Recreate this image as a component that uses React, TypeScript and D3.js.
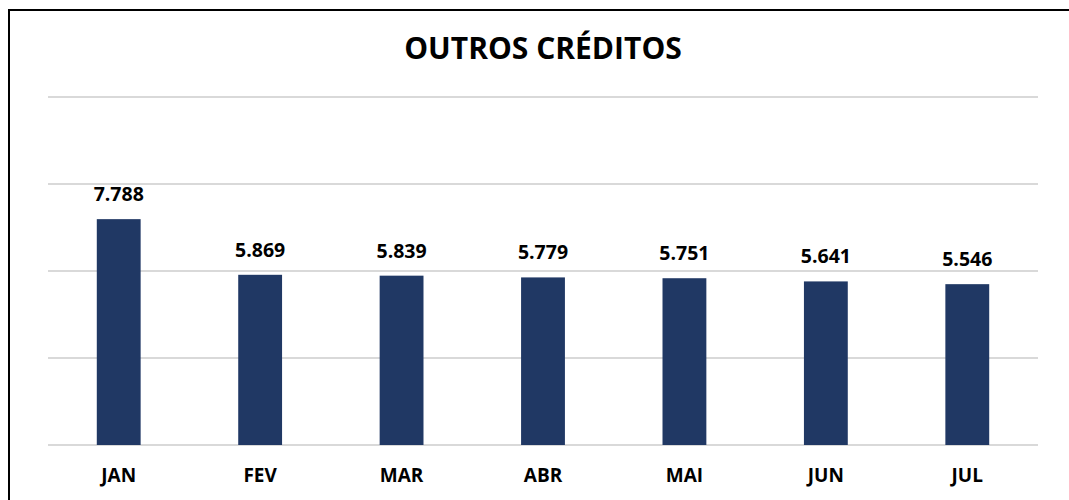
import React, { useEffect, useRef } from 'react';
import * as d3 from 'd3';

const months = ['JAN', 'FEV', 'MAR', 'ABR', 'MAI', 'JUN', 'JUL'];
const values = [7.788, 5.869, 5.839, 5.779, 5.751, 5.641, 5.546];
const yTicks = [0, 3, 6, 9, 12];
const title = 'OUTROS CRÉDITOS';

export default function App() {
  const svgRef = useRef<SVGSVGElement>(null);

  useEffect(() => {
    const width = 1069;
    const height = 500;
    const plot = { left: 48, right: 1038, top: 97, bottom: 445 };
    const font = "'Open Sans', 'Liberation Sans', sans-serif";

    const svg = d3.select(svgRef.current);
    svg.selectAll('*').remove();
    svg.attr('width', width).attr('height', height);

    svg.append('rect')
      .attr('width', width)
      .attr('height', height)
      .attr('fill', '#ffffff');

    // outer frame (only left and top are inside the picture)
    svg.append('path')
      .attr('d', `M9,${height + 5} L9,10 L${width + 5},10`)
      .attr('fill', 'none')
      .attr('stroke', '#000000')
      .attr('stroke-width', 2);

    const x = d3.scaleBand()
      .domain(months)
      .range([plot.left, plot.right])
      .paddingInner(0.69)
      .paddingOuter(0.345);

    const y = d3.scaleLinear()
      .domain([0, 12])
      .range([plot.bottom, plot.top]);

    // grid lines
    svg.append('g')
      .selectAll('line')
      .data(yTicks)
      .enter()
      .append('line')
      .attr('x1', plot.left)
      .attr('x2', plot.right)
      .attr('y1', d => y(d))
      .attr('y2', d => y(d))
      .attr('stroke', '#d9d9d9')
      .attr('stroke-width', 2);

    // bars
    svg.append('g')
      .selectAll('rect')
      .data(values)
      .enter()
      .append('rect')
      .attr('x', (d, i) => x(months[i]))
      .attr('width', x.bandwidth())
      .attr('y', d => y(d))
      .attr('height', d => y(0) - y(d))
      .attr('fill', '#203864');

    // value labels
    svg.append('g')
      .selectAll('text')
      .data(values)
      .enter()
      .append('text')
      .attr('x', (d, i) => x(months[i]) + x.bandwidth() / 2)
      .attr('y', d => y(d) - 18)
      .attr('text-anchor', 'middle')
      .attr('fill', '#000000')
      .style('font-family', font)
      .style('font-weight', 'bold')
      .style('font-size', '19.5px')
      .text(d => d.toFixed(3));

    // category labels
    svg.append('g')
      .selectAll('text')
      .data(months)
      .enter()
      .append('text')
      .attr('x', d => x(d) + x.bandwidth() / 2)
      .attr('y', 482)
      .attr('text-anchor', 'middle')
      .attr('fill', '#000000')
      .style('font-family', font)
      .style('font-weight', 'bold')
      .style('font-size', '19px')
      .text(d => d);

    // title
    svg.append('text')
      .attr('x', 543)
      .attr('y', 59)
      .attr('text-anchor', 'middle')
      .attr('fill', '#000000')
      .style('font-family', font)
      .style('font-weight', 'bold')
      .style('font-size', '30px')
      .text(title);
  }, []);

  return (
    <svg ref={svgRef} style={{ position: 'absolute', left: 0, top: 0, display: 'block' }} />
  );
}
